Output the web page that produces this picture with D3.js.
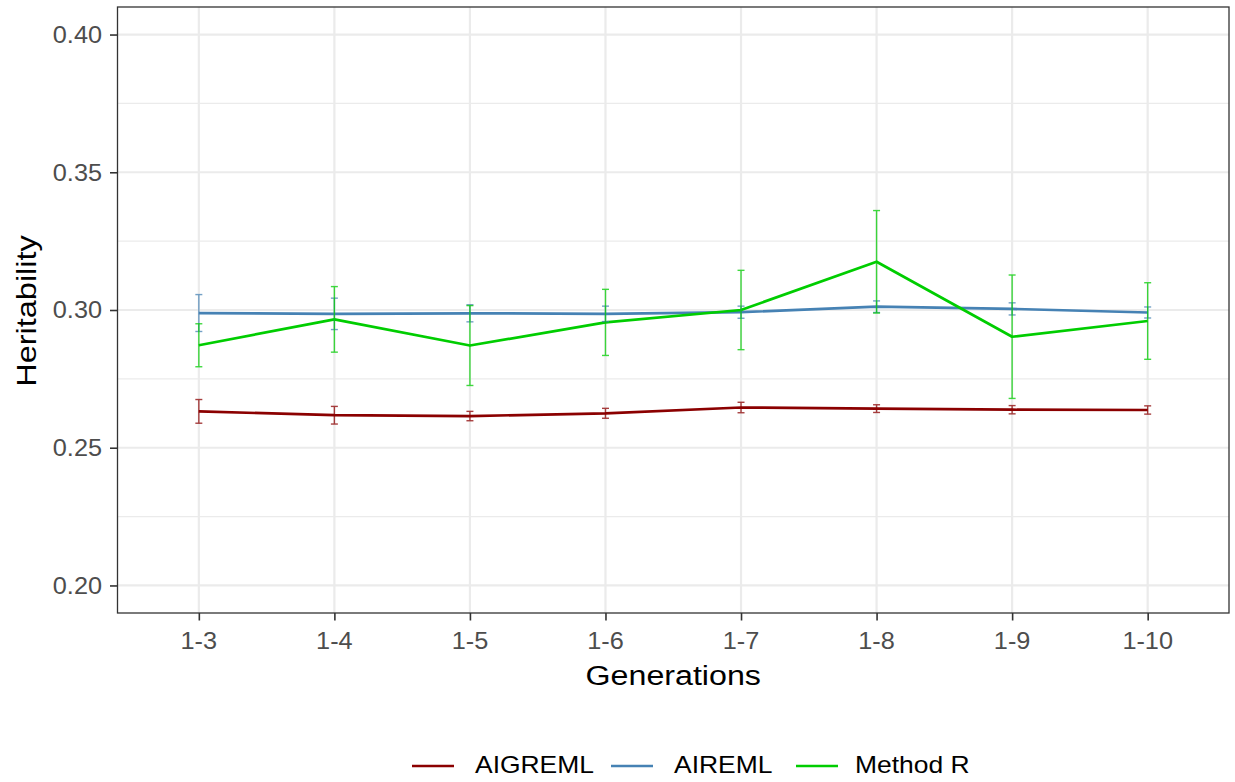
<!DOCTYPE html>
<html>
<head>
<meta charset="utf-8">
<script src="https://cdn.jsdelivr.net/npm/d3@7"></script>
<style>
  html, body { margin: 0; padding: 0; background: #fff; }
  svg text { font-family: "Liberation Sans", Arial, Helvetica, sans-serif; }
</style>
</head>
<body>
<svg id="chart" width="1235" height="782"></svg>
<script>
// Heritability estimates by generation window, with error bars (half-widths)
const generations = ["1-3", "1-4", "1-5", "1-6", "1-7", "1-8", "1-9", "1-10"];
const seriesNames = ["AIGREML", "AIREML", "Method R"];
const seriesColors = ["#8B0000", "#4682B4", "#00CD00"];

const aigremlMean = [0.2632, 0.2618, 0.2615, 0.2625, 0.2646, 0.2642, 0.2638, 0.2637];
const aigremlErr  = [0.0043, 0.0032, 0.0017, 0.0018, 0.0019, 0.0014, 0.0015, 0.0015];
const airemlMean  = [0.2989, 0.2986, 0.2988, 0.2986, 0.2992, 0.3012, 0.3004, 0.2991];
const airemlErr   = [0.0067, 0.0057, 0.0031, 0.0028, 0.0022, 0.0021, 0.0022, 0.0020];
const methodRMean = [0.2872, 0.2966, 0.2871, 0.2955, 0.3000, 0.3175, 0.2903, 0.2960];
const methodRErr  = [0.0078, 0.0119, 0.0145, 0.0120, 0.0144, 0.0186, 0.0224, 0.0139];

const yTicks = [0.20, 0.25, 0.30, 0.35, 0.40];
const yMinorTicks = [0.225, 0.275, 0.325, 0.375];

const means = [aigremlMean, airemlMean, methodRMean];
const errs = [aigremlErr, airemlErr, methodRErr];
const series = seriesNames.map((name, i) => ({
  name, color: seriesColors[i],
  values: generations.map((g, j) => ({ g, m: means[i][j], e: errs[i][j] }))
}));

const svg = d3.select("#chart");
const panel = { left: 117.5, right: 1229, top: 7, bottom: 613 };

const x = d3.scalePoint().domain(generations).range([panel.left, panel.right]).padding(0.6);
const y = d3.scaleLinear().domain([0.19, 0.41]).range([panel.bottom, panel.top]);

// Text helper: `along` stretches the glyphs in the reading direction
function label(g, px, py, str, opts) {
  const along = opts.along || 1;
  const tf = opts.rotate
    ? `translate(${px},${py}) rotate(-90) scale(${along},1)`
    : `translate(${px},${py}) scale(${along},1)`;
  return g.append("text")
    .attr("transform", tf)
    .attr("text-anchor", opts.anchor || "middle")
    .attr("font-size", opts.size)
    .attr("fill", opts.fill || "#000")
    .text(str);
}

// Panel background and grid
svg.append("rect").attr("x", panel.left).attr("y", panel.top)
  .attr("width", panel.right - panel.left).attr("height", panel.bottom - panel.top)
  .attr("fill", "#fff");

const grid = svg.append("g");
grid.selectAll("line.minor").data(yMinorTicks).join("line")
  .attr("x1", panel.left).attr("x2", panel.right)
  .attr("y1", d => y(d)).attr("y2", d => y(d))
  .attr("stroke", "#EBEBEB").attr("stroke-width", 1.1);
grid.selectAll("line.majory").data(yTicks).join("line")
  .attr("x1", panel.left).attr("x2", panel.right)
  .attr("y1", d => y(d)).attr("y2", d => y(d))
  .attr("stroke", "#EBEBEB").attr("stroke-width", 2.2);
grid.selectAll("line.majorx").data(generations).join("line")
  .attr("x1", d => x(d)).attr("x2", d => x(d))
  .attr("y1", panel.top).attr("y2", panel.bottom)
  .attr("stroke", "#EBEBEB").attr("stroke-width", 2.2);

// Series lines
const line = d3.line().x(d => x(d.g)).y(d => y(d.m));
const capHalf = 3.5;
series.forEach(s => {
  svg.append("path").datum(s.values)
    .attr("d", line).attr("fill", "none")
    .attr("stroke", s.color).attr("stroke-width", 2.7)
    .attr("stroke-linejoin", "round");
});
// Error bars
series.forEach(s => {
  const eb = svg.append("g").attr("stroke", s.color).attr("stroke-width", 1.4).attr("opacity", 0.75);
  s.values.forEach(d => {
    const cx = x(d.g), y0 = y(d.m - d.e), y1 = y(d.m + d.e);
    eb.append("line").attr("x1", cx).attr("x2", cx).attr("y1", y0).attr("y2", y1);
    eb.append("line").attr("x1", cx - capHalf).attr("x2", cx + capHalf).attr("y1", y0).attr("y2", y0);
    eb.append("line").attr("x1", cx - capHalf).attr("x2", cx + capHalf).attr("y1", y1).attr("y2", y1);
  });
});

// Panel border
svg.append("rect").attr("x", panel.left).attr("y", panel.top)
  .attr("width", panel.right - panel.left).attr("height", panel.bottom - panel.top)
  .attr("fill", "none").attr("stroke", "#333333").attr("stroke-width", 1.3);

// Axes
const axisG = svg.append("g");
const xAxis = d3.axisBottom(x).tickSize(7.5).tickSizeOuter(0).tickFormat(() => "");
const xa = axisG.append("g").attr("transform", `translate(0,${panel.bottom})`).call(xAxis);
xa.select(".domain").remove();
xa.selectAll(".tick line").attr("stroke", "#333333").attr("stroke-width", 1.6);
generations.forEach(g => label(axisG, x(g), 648.5, g, { size: 23, fill: "#4D4D4D", along: 1.1 }));

const yAxis = d3.axisLeft(y).tickValues(yTicks).tickSize(7.5).tickSizeOuter(0).tickFormat(() => "");
const ya = axisG.append("g").attr("transform", `translate(${panel.left},0)`).call(yAxis);
ya.select(".domain").remove();
ya.selectAll(".tick line").attr("stroke", "#333333").attr("stroke-width", 1.6);
yTicks.forEach(v => label(axisG, 102, y(v) + 8.3, d3.format(".2f")(v), { size: 23, fill: "#4D4D4D", anchor: "end", along: 1.1 }));

// Axis titles
label(svg, (panel.left + panel.right) / 2, 684.5, "Generations", { size: 28, along: 1.15 });
label(svg, 35.5, 311, "Heritability", { size: 28, rotate: true, along: 1.16 });

// Legend
const legend = svg.append("g");
const legendItems = [
  { x0: 412, tx: 475 },
  { x0: 611, tx: 674 },
  { x0: 796, tx: 855 }
];
series.forEach((s, i) => {
  const it = legendItems[i];
  legend.append("line").attr("x1", it.x0).attr("x2", it.x0 + 42)
    .attr("y1", 766).attr("y2", 766)
    .attr("stroke", s.color).attr("stroke-width", 2.6);
  label(legend, it.tx, 772.5, s.name, { size: 23, anchor: "start", along: 1.15 });
});
</script>
</body>
</html>
